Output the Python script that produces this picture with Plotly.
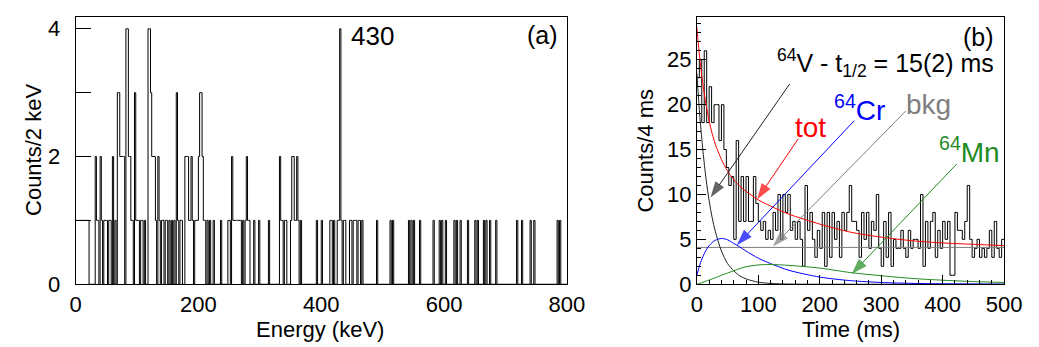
import plotly.graph_objects as go
import numpy as np

# ---------------- data: panel (a) gamma spectrum, 2 keV bins ----------------
energy_bin_width = 2
energy_range = 800
energy_bins_keV = [0, 2, 4, 6, 8, 10, 12, 14, 16, 18, 20,
                   32, 34, 36, 40, 42, 46, 48, 50, 54, 56, 60, 64,
                   68, 70, 72, 74, 76, 78, 82, 84, 86, 88, 90, 92,
                   96, 98, 100, 102, 106, 108, 112,
                   118, 120, 122, 124, 126, 128, 130, 134, 136,
                   140, 142, 146, 148, 152, 156, 160, 164, 166, 170, 172,
                   178, 180, 182, 184, 186, 188, 190, 194, 196, 198,
                   200, 202, 204, 206, 208, 210, 214, 218, 224, 236,
                   248, 250, 254, 256, 258, 260, 262, 264, 266, 268,
                   272, 276, 278, 280, 282, 290, 298, 314,
                   332, 334, 336, 340, 342, 350, 352, 354, 356, 358, 360, 362, 366,
                   392, 400, 414, 416, 420, 426, 428, 430, 432, 436, 438,
                   446, 448, 452, 454, 456, 460, 462, 466, 490, 512, 516,
                   542, 546, 550, 560, 582, 592, 596, 602, 616, 620, 626, 638,
                   650, 654, 664, 668, 674, 684, 718, 726, 740, 746, 784, 788]
energy_counts = [1, 1, 1, 1, 1, 1, 1, 1, 1, 1, 1,
                 2, 1, 1, 2, 1, 1, 1, 1, 1, 1, 2, 1,
                 3, 3, 2, 2, 2, 2, 4, 4, 2, 2, 1, 1,
                 3, 1, 1, 1, 1, 1, 1,
                 4, 4, 3, 2, 2, 2, 1, 2, 1,
                 1, 1, 1, 1, 1, 1, 1, 3, 1, 1, 1,
                 2, 2, 2, 1, 1, 2, 1, 1, 1, 1,
                 2, 3, 3, 2, 1, 1, 1, 1, 1, 1,
                 1, 1, 2, 1, 1, 1, 1, 1, 1, 1,
                 1, 1, 2, 1, 1, 1, 1, 1,
                 2, 1, 1, 1, 1, 1, 2, 2, 1, 1, 2, 1, 1,
                 1, 1, 1, 1, 1, 1, 1, 4, 1, 1, 1,
                 1, 1, 1, 1, 1, 1, 1, 1, 1, 1, 1,
                 1, 1, 1, 1, 1, 1, 1, 1, 1, 1, 1, 1,
                 1, 1, 1, 1, 1, 1, 1, 1, 1, 1, 1, 1]

# ---------------- data: panel (b) decay curve, 4 ms bins ----------------
time_bin_width = 4
time_counts = [23, 25, 18, 26, 18, 22, 18, 20, 20, 16,
               20, 15, 13, 11, 12, 5, 16, 7, 12, 7,
               12, 7, 7, 12, 9, 7, 6, 7, 5, 6,
               5, 8, 6, 10, 5, 10, 8, 10, 6, 7,
               5, 7, 5, 2, 11, 6, 8, 5, 3, 6,
               4, 8, 2, 8, 3, 8, 5, 7, 3, 8,
               6, 8, 11, 7, 7, 6, 3, 8, 5, 8,
               4, 7, 6, 10, 4, 2, 7, 3, 8, 2,
               5, 4, 4, 6, 4, 3, 6, 4, 5, 5,
               4, 10, 2, 7, 4, 7, 8, 3, 6, 4,
               7, 5, 7, 1, 1, 8, 6, 6, 5, 7,
               11, 5, 3, 4, 5, 3, 4, 3, 4, 6,
               3, 7, 4, 3, 5]

# fit components (Counts/4 ms)
fit_t = [0, 5, 10, 15, 20, 25, 30, 40, 50, 60, 70, 80, 100, 120, 150, 200, 250, 300, 350, 400, 450, 500]
fit_tot = [28.6, 25.0, 22.2, 20.0, 18.2, 16.75, 15.6, 13.9, 12.6, 11.65, 10.9, 10.35, 9.4, 8.7, 7.8, 6.7, 5.8, 5.25, 4.85, 4.6, 4.45, 4.3]
fit_v64 = [23.5, 18.6, 14.8, 11.7, 9.3, 7.4, 5.9, 3.7, 2.3, 1.5, 0.93, 0.6, 0.23, 0.09, 0.02, 0, 0, 0, 0, 0, 0, 0]
fit_cr64 = [1.0, 2.2, 3.1, 3.8, 4.3, 4.65, 4.9, 5.1, 4.95, 4.55, 4.15, 3.7, 2.9, 2.3, 1.55, 0.8, 0.4, 0.2, 0.1, 0.05, 0.03, 0.01]
fit_mn64 = [0, 0.1, 0.22, 0.35, 0.47, 0.6, 0.72, 1.0, 1.25, 1.5, 1.75, 1.95, 2.15, 2.2, 2.1, 1.8, 1.3, 0.95, 0.65, 0.45, 0.3, 0.2]
fit_bkg = 4.1

# label arrows: (tail, head) in data coordinates of panel (b)
arrow_v64 = [(151, 22.3), (22.3, 9.66)]
arrow_tot = [(165, 16.2), (98, 9.44)]
arrow_cr64 = [(256, 18.2), (65, 4.34)]
arrow_bkg = [(340, 19.3), (123.6, 4.2)]
arrow_mn64 = [(423, 13.4), (252, 1.13)]

# ---------------- build step arrays ----------------
n_e = energy_range // energy_bin_width
e_full = np.zeros(n_e)
for e, c in zip(energy_bins_keV, energy_counts):
    e_full[e // energy_bin_width] = c
e_edges = np.arange(n_e + 1) * energy_bin_width
e_y = np.append(e_full, e_full[-1])

t_full = np.array(time_counts, dtype=float)
t_edges = np.arange(len(t_full) + 1) * time_bin_width
t_y = np.append(t_full, t_full[-1])

FONT = "Liberation Sans, Arial, sans-serif"
W, H = 1039, 347
GREEN = "#1f8a1f"
GRAY = "#7f7f7f"

fig = go.Figure()

fig.add_trace(go.Scatter(x=e_edges, y=e_y, mode="lines", line=dict(color="black", width=1, shape="hv"),
                         xaxis="x", yaxis="y", showlegend=False, hoverinfo="skip"))

fig.add_trace(go.Scatter(x=t_edges, y=t_y, mode="lines", line=dict(color="black", width=1, shape="hv"),
                         xaxis="x2", yaxis="y2", showlegend=False, hoverinfo="skip"))
fig.add_trace(go.Scatter(x=[0, 500], y=[fit_bkg, fit_bkg], mode="lines", line=dict(color=GRAY, width=1),
                         xaxis="x2", yaxis="y2", showlegend=False, hoverinfo="skip"))
for ys, col in [(fit_v64, "#222222"), (fit_cr64, "#0000ff"), (fit_mn64, GREEN), (fit_tot, "#ff0000")]:
    fig.add_trace(go.Scatter(x=fit_t, y=ys, mode="lines", line=dict(color=col, width=1, shape="spline", smoothing=0.8),
                             xaxis="x2", yaxis="y2", showlegend=False, hoverinfo="skip"))

for pts, col in [(arrow_v64, "#222222"), (arrow_tot, "#ff0000"), (arrow_cr64, "#0000ff"),
                 (arrow_bkg, GRAY), (arrow_mn64, GREEN)]:
    fig.add_trace(go.Scatter(x=[p[0] for p in pts], y=[p[1] for p in pts], mode="lines+markers",
                             line=dict(color=col, width=1),
                             marker=dict(symbol=["circle", "arrow"], size=[0, 17], color=col,
                                         angleref="previous", line=dict(width=0)),
                             xaxis="x2", yaxis="y2", showlegend=False, hoverinfo="skip", cliponaxis=False))

def px2paper_x(px):
    return px / W

def px2paper_y(py):
    return 1 - py / H

left_dom = [px2paper_x(63), px2paper_x(566)]
right_dom = [px2paper_x(699), px2paper_x(1013.5)]
y_dom = [px2paper_y(287), px2paper_y(9)]

TICK_SIZE = 22
axis_common = dict(showline=True, linecolor="black", linewidth=1, mirror=True, showgrid=False,
                   zeroline=False, tickfont=dict(family=FONT, size=TICK_SIZE, color="black"), tickcolor="black")

fig.update_layout(
    width=W, height=H, margin=dict(l=0, r=0, t=0, b=0),
    paper_bgcolor="white", plot_bgcolor="white",
    xaxis=dict(domain=left_dom, range=[0, 800], tickvals=[0, 200, 400, 600, 800], ticks="", anchor="y",
               **axis_common),
    yaxis=dict(domain=y_dom, range=[0, 4.19], tickvals=[0, 2, 4],
               ticks="inside", ticklen=15, ticklabelstandoff=10, anchor="x",
               minor=dict(tickvals=[1, 3], ticklen=15, ticks="inside", tickcolor="black", showgrid=False),
               **axis_common),
    xaxis2=dict(domain=right_dom, range=[0, 500], tickvals=[0, 100, 200, 300, 400, 500], ticks="inside",
                ticklen=9, anchor="y2", minor=dict(dtick=20, ticklen=4, ticks="inside", tickcolor="black"),
                **axis_common),
    yaxis2=dict(domain=y_dom, range=[0, 29.8], tickvals=[0, 5, 10, 15, 20, 25], ticks="inside", ticklen=9,
                anchor="x2", minor=dict(dtick=1, ticklen=4, ticks="inside", tickcolor="black"), **axis_common),
)

ann = []
def text_paper(txt, px, py, size=22, color="black", angle=0):
    ann.append(dict(text=txt, x=px2paper_x(px), y=px2paper_y(py), xref="paper", yref="paper",
                    showarrow=False, textangle=angle, xanchor="center", yanchor="middle",
                    font=dict(family=FONT, size=size, color=color)))

text_paper("Counts/2 keV", 20, 148, angle=-90)
text_paper("Energy (keV)", 313, 334)
text_paper("Counts/4 ms", 646, 148, angle=-90)
text_paper("Time (ms)", 857, 334)

def text_data(txt, x, y, xr, yr, size=25, color="black"):
    ann.append(dict(text=txt, x=x, y=y, xref=xr, yref=yr, showarrow=False, xanchor="center", yanchor="middle",
                    font=dict(family=FONT, size=size, color=color)))

text_data("430", 483, 3.88, "x", "y", size=26)
text_data("(a)", 760, 3.9, "x", "y", size=25)
text_data("(b)", 459, 27.5, "x2", "y2", size=25)
text_data("<sup>64</sup>V - t<sub>1/2</sub> = 15(2) ms", 307, 24.6, "x2", "y2", size=25)
text_data("tot", 185.6, 17.5, "x2", "y2", size=28, color="#ff0000")
text_data("<sup>64</sup>Cr", 264, 19.6, "x2", "y2", size=28, color="#0000ff")
text_data("bkg", 377, 20.0, "x2", "y2", size=28, color=GRAY)
text_data("<sup>64</sup>Mn", 443, 15.0, "x2", "y2", size=28, color=GREEN)

fig.update_layout(annotations=ann)
fig.write_html("out.html")
